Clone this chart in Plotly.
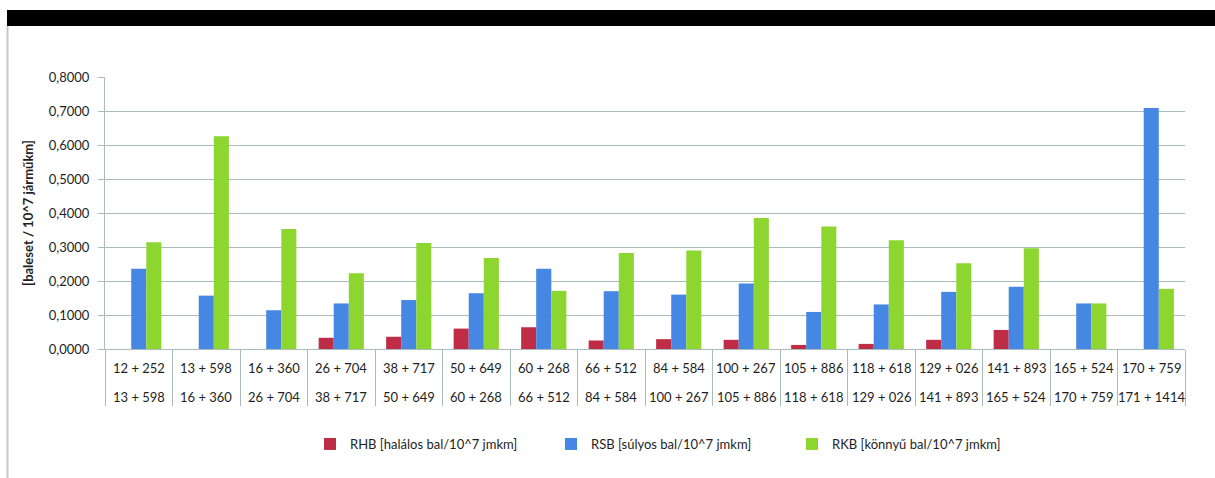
import plotly.graph_objects as go

row1 = ["12 + 252", "13 + 598", "16 + 360", "26 + 704", "38 + 717", "50 + 649", "60 + 268", "66 + 512",
        "84 + 584", "100 + 267", "105 + 886", "118 + 618", "129 + 026", "141 + 893", "165 + 524", "170 + 759"]
row2 = ["13 + 598", "16 + 360", "26 + 704", "38 + 717", "50 + 649", "60 + 268", "66 + 512", "84 + 584",
        "100 + 267", "105 + 886", "118 + 618", "129 + 026", "141 + 893", "165 + 524", "170 + 759", "171 + 1414"]
categories = [f"{a} – {b}" for a, b in zip(row1, row2)]

rhb = [0, 0, 0, 0.033, 0.036, 0.060, 0.064, 0.025, 0.029, 0.027, 0.012, 0.015, 0.027, 0.056, 0, 0]
rsb = [0.236, 0.157, 0.114, 0.134, 0.144, 0.164, 0.236, 0.170, 0.160, 0.193, 0.109, 0.131, 0.168, 0.183, 0.134, 0.709]
rkb = [0.314, 0.626, 0.353, 0.223, 0.312, 0.268, 0.171, 0.282, 0.290, 0.385, 0.360, 0.320, 0.252, 0.296, 0.134, 0.177]

names = ["RHB [halálos bal/10^7 jmkm]", "RSB [súlyos bal/10^7 jmkm]", "RKB [könnyű bal/10^7 jmkm]"]
colors = ["#BE2D45", "#4587E3", "#8CD62F"]

FONT = "Lato"
FS = 13
TXT = "#1E1E1E"
GRID = "#A9BBBB"

fig = go.Figure()
for vals, name, col in zip([rhb, rsb, rkb], names, colors):
    fig.add_trace(go.Bar(x=categories, y=vals, name=name, marker=dict(color=col, line=dict(width=0))))

W, H = 1215, 478
L, R, T, B = 105, 1185, 77, 349
pw, ph = R - L, B - T

def px_x(x):
    return (x - L) / pw

def px_y(y):
    return (B - y) / ph

fig.update_layout(
    width=W, height=H,
    margin=dict(l=L, r=W - R, t=T, b=H - B),
    paper_bgcolor="white", plot_bgcolor="white",
    barmode="group", bargap=0.33, bargroupgap=0,
    separators=", ",
    font=dict(family=FONT, size=FS, color=TXT),
    showlegend=True,
    legend=dict(orientation="h", x=px_x(310), xanchor="left", y=px_y(444), yanchor="middle",
                font=dict(family=FONT, size=FS, color=TXT),
                entrywidth=196, entrywidthmode="pixels", traceorder="normal"),
    xaxis=dict(type="category", range=[-0.5, 15.5], showgrid=False,
               showline=True, linecolor=GRID, linewidth=1,
               ticks="outside", tickson="boundaries", ticklen=56, tickcolor=GRID, tickwidth=1,
               showticklabels=False),
    yaxis=dict(range=[0, 0.8], dtick=0.1, tick0=0, tickformat=".4f",
               showgrid=True, gridcolor=GRID, gridwidth=1,
               showline=True, linecolor=GRID, linewidth=1,
               ticks="outside", ticklen=6, tickcolor=GRID, ticklabelstandoff=6,
               tickfont=dict(family=FONT, size=FS, color=TXT),
               title=dict(text="<b>[baleset / 10^7 járműkm]</b>", font=dict(family=FONT, size=FS, color=TXT),
                          standoff=12),
               zeroline=False),
)

# two-row category labels
for cat, a, b in zip(categories, row1, row2):
    fig.add_annotation(x=cat, xref="x", y=px_y(368), yref="paper", text=a, showarrow=False,
                       font=dict(family=FONT, size=FS, color=TXT), yanchor="middle")
    fig.add_annotation(x=cat, xref="x", y=px_y(397), yref="paper", text=b, showarrow=False,
                       font=dict(family=FONT, size=FS, color=TXT), yanchor="middle")

# black top band and left frame line
fig.add_shape(type="rect", xref="paper", yref="paper", x0=px_x(7), x1=px_x(1215), y0=px_y(26), y1=px_y(10),
              fillcolor="black", line=dict(width=0), layer="above")
fig.add_shape(type="line", xref="paper", yref="paper", x0=px_x(7.5), x1=px_x(7.5), y0=px_y(26), y1=px_y(478),
              line=dict(color="#C8C8C8", width=2))

fig.write_html("out.html")
